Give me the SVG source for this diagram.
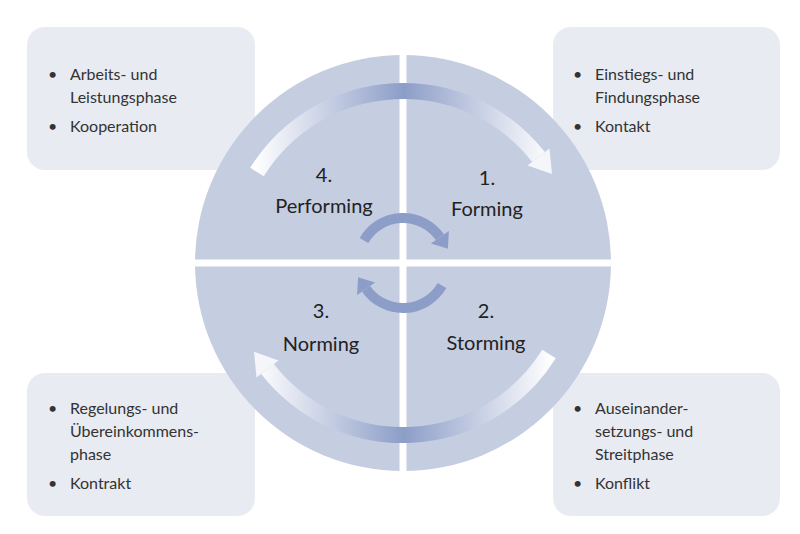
<svg xmlns="http://www.w3.org/2000/svg" width="800" height="534" viewBox="0 0 800 534">
<defs>
<style>
.box{fill:#e8ebf2}
.t{font-family:Lato,"Open Sans",sans-serif;font-size:16px;fill:#333}
.h{font-family:Lato,"Open Sans",sans-serif;font-size:20px;fill:#222;text-anchor:middle}
.sm{fill:none;stroke:#8c9dc7;stroke-width:10}
</style>
<linearGradient id="g" gradientUnits="userSpaceOnUse" x1="255" y1="0" x2="552" y2="0">
<stop offset="0" stop-color="#ffffff"/><stop offset="0.5" stop-color="#8c9dc7"/><stop offset="1" stop-color="#ffffff"/>
</linearGradient>
</defs>
<rect width="800" height="534" fill="#fff"/>
<g id="box-performing"><rect class="box" x="27" y="27" width="228" height="143" rx="18"/>
<text class="t"><tspan x="48" y="80">•</tspan><tspan x="70" y="80">Arbeits- und</tspan><tspan x="70" y="103">Leistungsphase</tspan><tspan x="48" y="132">•</tspan><tspan x="70" y="132">Kooperation</tspan></text></g>
<g id="box-forming"><rect class="box" x="553" y="27" width="227" height="143" rx="18"/>
<text class="t"><tspan x="573" y="80">•</tspan><tspan x="595" y="80">Einstiegs- und</tspan><tspan x="595" y="103">Findungsphase</tspan><tspan x="573" y="132">•</tspan><tspan x="595" y="132">Kontakt</tspan></text></g>
<g id="box-norming"><rect class="box" x="27" y="373" width="228" height="143" rx="18"/>
<text class="t"><tspan x="48" y="414">•</tspan><tspan x="70" y="414">Regelungs- und</tspan><tspan x="70" y="437">Übereinkommens-</tspan><tspan x="70" y="460">phase</tspan><tspan x="48" y="489">•</tspan><tspan x="70" y="489">Kontrakt</tspan></text></g>
<g id="box-storming"><rect class="box" x="553" y="373" width="227" height="143" rx="18"/>
<text class="t"><tspan x="573" y="414">•</tspan><tspan x="595" y="414">Auseinander-</tspan><tspan x="595" y="437">setzungs- und</tspan><tspan x="595" y="460">Streitphase</tspan><tspan x="573" y="489">•</tspan><tspan x="595" y="489">Konflikt</tspan></text></g>
<g id="circle">
<circle cx="403" cy="263" r="208" fill="#c5cde0"/>
<rect x="399.5" y="50" width="7" height="430" fill="#fff"/>
<rect x="190" y="259.5" width="430" height="7" fill="#fff"/>
</g>
<g id="connectors">
<path d="M257,172 A172,172 0 0 1 538.5,157" fill="none" stroke="url(#g)" stroke-width="16"/>
<polygon points="549.5,148.4 527.5,165.6 552,174" fill="#f4f6fa"/>
<path d="M549,354 A172,172 0 0 1 267.5,369" fill="none" stroke="url(#g)" stroke-width="16"/>
<polygon points="256.5,377.6 278.5,360.4 254,351.7" fill="#f4f6fa"/>
<path class="sm" d="M364,240.5 A45,45 0 0 1 439.9,237.2"/>
<polygon points="448.9,230.9 430.9,243.5 447.9,248.7" fill="#8c9dc7"/>
<path class="sm" d="M442,285.5 A45,45 0 0 1 366.1,288.8"/>
<polygon points="357.1,295.1 375.1,282.5 358.1,277.3" fill="#8c9dc7"/>
</g>
<g id="n4"><text class="h" x="324" y="182">4.</text><text class="h" x="324" y="213">Performing</text></g>
<g id="n1"><text class="h" x="487" y="185">1.</text><text class="h" x="487" y="216">Forming</text></g>
<g id="n3"><text class="h" x="321" y="318">3.</text><text class="h" x="321" y="351">Norming</text></g>
<g id="n2"><text class="h" x="486" y="318">2.</text><text class="h" x="486" y="350">Storming</text></g>
</svg>
